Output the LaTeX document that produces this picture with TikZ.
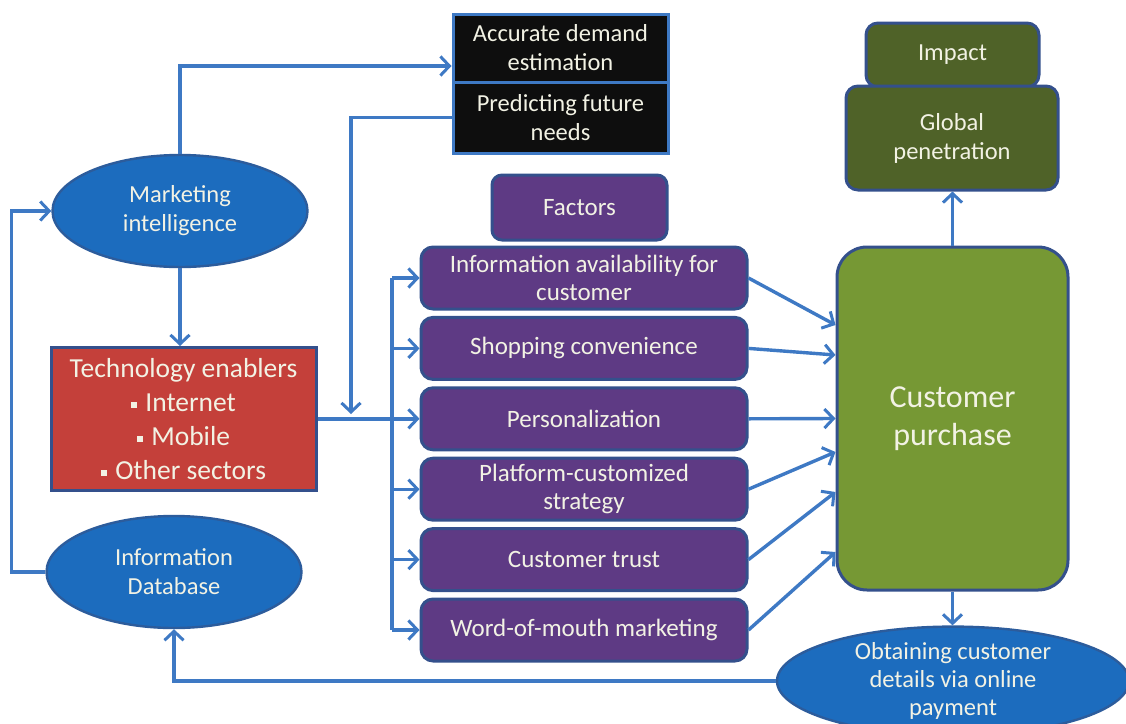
\documentclass[tikz,border=0pt]{standalone}
\usepackage{fontspec}
\setmainfont{Carlito}
\usetikzlibrary{shapes.geometric,arrows.meta}

\definecolor{linie}{RGB}{62,121,196}
\definecolor{schrift}{RGB}{242,242,228}
\definecolor{ovalblau}{RGB}{28,108,190}
\definecolor{ovalrand}{RGB}{44,92,156}
\definecolor{rahmen}{RGB}{52,80,140}
\definecolor{techrot}{RGB}{196,64,58}
\definecolor{schwarz}{RGB}{14,14,14}
\definecolor{lila}{RGB}{94,58,132}
\definecolor{gruen}{RGB}{118,152,52}
\definecolor{dunkelgruen}{RGB}{79,98,40}

% kleines quadratisches Aufzaehlungszeichen
\newcommand{\punkt}{\rule[0.28ex]{0.22em}{0.22em}\hspace{0.3em}}

\tikzset{
    txt/.style={text=schrift, align=center, inner sep=0pt,
        font=\fontsize{24.5}{29}\selectfont},
    oval/.style={txt, ellipse, draw=ovalrand, line width=2.4pt, fill=ovalblau,
        minimum width=255pt, minimum height=112pt},
    kasten/.style={txt, rectangle, draw=rahmen, line width=3pt},
    faktor/.style={kasten, fill=lila, rounded corners=12pt,
        minimum width=326pt, minimum height=62pt, font=\fontsize{25}{28}\selectfont},
    strich/.style={draw=linie, line width=3.4pt},
    pfeil/.style={strich, -{Straight Barb[length=9pt,width=19pt,line width=3pt]}}
}

\begin{document}
\begin{tikzpicture}[x=1pt,y=-1pt]
            \clip (0,0) rectangle (1126,723);
            \fill[white] (0,0) rectangle (1126,723);

            % linke Seite
            \node[oval] (mi) at (180,211) {Marketing\\intelligence};
            \node[kasten, fill=techrot, minimum width=265pt, minimum height=143pt,
                font=\fontsize{27.5}{34}\selectfont] (tech) at (183.5,419)
                {Technology enablers\\\punkt Internet\\\punkt Mobile\\\punkt Other sectors};
            \node[oval] (idb) at (174,572) {Information\\Database};

            % Prognose
            \node[kasten, fill=schwarz, draw=linie, minimum width=215pt, minimum height=68pt]
                (ade) at (560.5,48) {Accurate demand\\estimation};
            \node[kasten, fill=schwarz, draw=linie, minimum width=215pt, minimum height=71pt]
                (pfn) at (560.5,117.5) {Predicting future\\needs};

            % Faktoren
            \node[faktor, minimum width=175pt, minimum height=65pt, rounded corners=10pt]
                (fak) at (579.5,207.5) {Factors};
            \foreach \t [count=\i] in {{Information availability for\\customer},
                    {Shopping convenience}, {Personalization},
                    {Platform-customized\\strategy}, {Customer trust},
                    {Word-of-mouth marketing}}
                \node[faktor] (f\i) at (584,207.6+70.4*\i) {\t};

            % rechte Seite
            \node[kasten, fill=gruen, rounded corners=30pt, minimum width=231pt,
                minimum height=343pt, font=\fontsize{32}{38}\selectfont]
                (cp) at (952.5,418.5) {Customer\\purchase};
            \node[kasten, fill=dunkelgruen, rounded corners=12pt, minimum width=173pt,
                minimum height=64pt] (imp) at (952.5,55) {Impact};
            \node[kasten, fill=dunkelgruen, rounded corners=12pt, minimum width=212pt,
                minimum height=104pt] (gp) at (952,138) {Global\\penetration};
            \node[oval, minimum width=352pt, minimum height=100pt,
                font=\fontsize{24.5}{28}\selectfont] (ocd) at (953,681)
                {Obtaining customer\\details via online\\payment};

            % Hilfspunkte
            \coordinate (jn) at (351,419);
            \coordinate (bus) at (392,419);

            % Pfeile
            \draw[pfeil] (mi.north) |- ([yshift=-18pt]ade.west);
            \draw[pfeil] (pfn.west) -| ([yshift=5pt]jn);
            \draw[pfeil] (mi.south) -- (mi.south |- tech.north);
            \draw[strich] (tech.east) -- (bus);
            \draw[strich] (f1.west -| bus) -- (f6.west -| bus);
            \foreach \i in {1,...,6}
                \draw[pfeil] (f\i.west -| bus) -- (f\i.west);
            \draw[pfeil] (idb.west) -- ++(-34,0) |- (mi.west);
            \foreach \i/\dy in {1/93.5,2/63.5,3/0,4/-33.5,5/-73.5,6/-133.5}
                \draw[pfeil] (f\i.east) -- ([yshift=\dy pt]cp.west);
            \draw[pfeil] (cp.north) -- (cp.north |- gp.south);
            \draw[pfeil] (cp.south) -- (cp.south |- ocd.north);
            \draw[pfeil] (ocd.west) -| (idb.south);
\end{tikzpicture}
\end{document}
